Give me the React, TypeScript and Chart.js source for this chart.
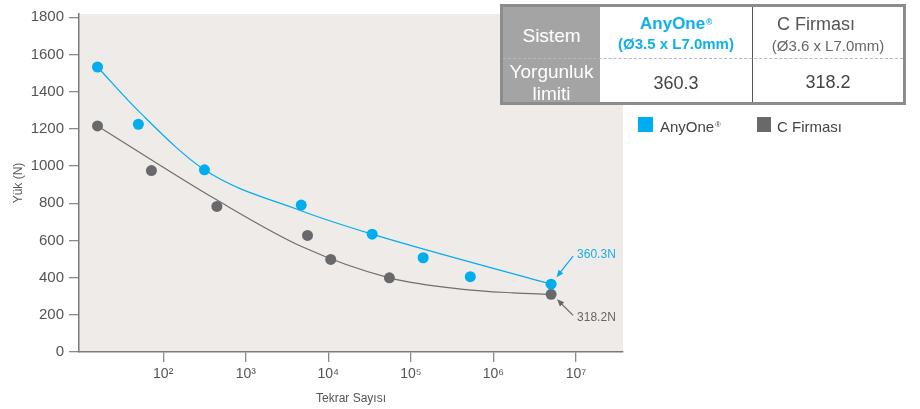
import React, { useEffect, useRef } from 'react';
import { Chart, registerables } from 'chart.js';

Chart.register(...registerables);

const FONT = '"Liberation Sans", Arial, Helvetica, sans-serif';

// ---- data ----
const seriesNames = ['AnyOne', 'C Firması'];
const seriesDims = ['(Ø3.5 x L7.0mm)', '(Ø3.6 x L7.0mm)'];
const fatigueLimits = [360.3, 318.2];

const anyOneCycles = [16, 50, 316, 4700, 34000, 141000, 525000, 5000000];
const anyOneLoad = [1533, 1225, 980, 790, 634, 507, 405, 365];

const cFirmasiCycles = [16, 72, 447, 5600, 10700, 55000, 5000000];
const cFirmasiLoad = [1216, 976, 783, 627, 498, 399, 310];

const anyOneFitCycles = [16, 50, 316, 4680, 33900, 5000000];
const anyOneFitLoad = [1533, 1297, 980, 760, 634, 365];

const cFirmasiFitCycles = [16, 449, 4980, 54800, 431500, 1740000, 5000000];
const cFirmasiFitLoad = [1216, 817, 563, 399, 337, 318, 310];

const yTicks = [0, 200, 400, 600, 800, 1000, 1200, 1400, 1600, 1800];
const xTicks = [1e2, 1e3, 1e4, 1e5, 1e6, 1e7];
const xTickLabels = ['10²', '10³', '10⁴', '10⁵', '10⁶', '10⁷'];

const BLUE = '#00aeef';
const GREY = '#69696b';

const toXY = (xs: number[], ys: number[]) => xs.map((v, i) => ({ x: v, y: ys[i] }));

const bgPlugin = {
  id: 'plotBg',
  beforeDraw(chart: any) {
    const { ctx, chartArea: a } = chart;
    ctx.save();
    ctx.fillStyle = '#efebe8';
    ctx.fillRect(a.left, a.top, a.right - a.left, a.bottom - a.top);
    ctx.restore();
  },
};

function arrow(ctx: CanvasRenderingContext2D, x1: number, y1: number, x2: number, y2: number, color: string) {
  const ang = Math.atan2(y2 - y1, x2 - x1);
  const hl = 7, hw = 3;
  ctx.strokeStyle = color;
  ctx.fillStyle = color;
  ctx.lineWidth = 1.2;
  ctx.beginPath();
  ctx.moveTo(x1, y1);
  ctx.lineTo(x2 - Math.cos(ang) * hl * 0.8, y2 - Math.sin(ang) * hl * 0.8);
  ctx.stroke();
  ctx.beginPath();
  ctx.moveTo(x2, y2);
  ctx.lineTo(x2 - Math.cos(ang) * hl + Math.sin(ang) * hw, y2 - Math.sin(ang) * hl - Math.cos(ang) * hw);
  ctx.lineTo(x2 - Math.cos(ang) * hl - Math.sin(ang) * hw, y2 - Math.sin(ang) * hl + Math.cos(ang) * hw);
  ctx.closePath();
  ctx.fill();
}

const annotPlugin = {
  id: 'annot',
  afterDatasetsDraw(chart: any) {
    const { ctx, scales } = chart;
    const xs = scales.x, ys = scales.y;
    ctx.save();
    ctx.font = `12px ${FONT}`;
    ctx.textBaseline = 'middle';
    ctx.textAlign = 'left';
    let px = xs.getPixelForValue(anyOneCycles[anyOneCycles.length - 1]);
    let py = ys.getPixelForValue(anyOneLoad[anyOneLoad.length - 1]);
    arrow(ctx, px + 22, py - 28, px + 5.5, py - 7, BLUE);
    ctx.fillStyle = '#1aaee8';
    ctx.fillText(`${fatigueLimits[0]}N`, px + 26, py - 29);
    px = xs.getPixelForValue(cFirmasiCycles[cFirmasiCycles.length - 1]);
    py = ys.getPixelForValue(cFirmasiLoad[cFirmasiLoad.length - 1]);
    arrow(ctx, px + 22, py + 21, px + 6, py + 5, '#666');
    ctx.fillStyle = '#666';
    ctx.fillText(`${fatigueLimits[1]}N`, px + 26, py + 23);
    ctx.restore();
  },
};

type TProps = { x: number; w: number; cy: number; size: number; color: string; weight?: number; pr?: number; children: React.ReactNode };
function T({ x, w, cy, size, color, weight = 400, pr = 0, children }: TProps) {
  const lh = Math.round(size * 1.3);
  return (
    <div
      style={{
        position: 'absolute', left: x, width: w, top: cy - lh / 2, height: lh, lineHeight: `${lh}px`,
        textAlign: 'center', fontSize: size, color, fontWeight: weight, whiteSpace: 'nowrap',
        paddingRight: pr, boxSizing: 'border-box',
      }}
    >
      {children}
    </div>
  );
}

const sup: React.CSSProperties = { fontSize: '0.5em', verticalAlign: 'top', position: 'relative', top: '-0.25em', marginLeft: 1 };

export default function App() {
  const ref = useRef<HTMLCanvasElement>(null);

  useEffect(() => {
    document.body.style.margin = '0';
    const canvas = ref.current!;
    const chart = new Chart(canvas, {
      type: 'scatter',
      data: {
        datasets: [
          {
            label: seriesNames[0], data: toXY(anyOneCycles, anyOneLoad), backgroundColor: BLUE, borderColor: BLUE,
            pointRadius: 5.5, pointBorderWidth: 0, order: 1,
          },
          {
            label: seriesNames[1], data: toXY(cFirmasiCycles, cFirmasiLoad), backgroundColor: GREY, borderColor: GREY,
            pointRadius: 5.5, pointBorderWidth: 0, order: 1,
          },
          {
            label: seriesNames[0] + ' fit', data: toXY(anyOneFitCycles, anyOneFitLoad), showLine: true, pointRadius: 0,
            borderColor: BLUE, borderWidth: 1.2, cubicInterpolationMode: 'monotone', order: 2,
          } as any,
          {
            label: seriesNames[1] + ' fit', data: toXY(cFirmasiFitCycles, cFirmasiFitLoad), showLine: true, pointRadius: 0,
            borderColor: '#6f6f6f', borderWidth: 1.2, cubicInterpolationMode: 'monotone', order: 2,
          } as any,
        ],
      },
      options: {
        animation: false,
        responsive: false,
        maintainAspectRatio: false,
        devicePixelRatio: 1,
        layout: { padding: { top: 13, right: 297, bottom: 0, left: 0 } },
        plugins: { legend: { display: false }, tooltip: { enabled: false } },
        scales: {
          x: {
            type: 'logarithmic',
            min: Math.pow(10, 0.98),
            max: Math.pow(10, 7.57),
            afterBuildTicks: (s: any) => { s.ticks = xTicks.map((v) => ({ value: v })); },
            afterFit: (s: any) => { s.height = 57; },
            grid: { display: true, drawOnChartArea: false, drawTicks: true, tickLength: 10, color: '#8a8a8a', lineWidth: 1.3 },
            border: { display: true, color: '#7a7a7a', width: 1.5 },
            ticks: {
              autoSkip: false, maxRotation: 0, padding: 4, color: '#555', font: { family: FONT, size: 14 },
              callback: (v: any) => { const i = xTicks.indexOf(Number(v)); return i >= 0 ? xTickLabels[i] : ''; },
            },
            title: { display: true, text: 'Tekrar Sayısı', color: '#555', font: { family: FONT, size: 12 }, padding: { top: 0, bottom: 3 } },
          },
          y: {
            type: 'linear',
            min: 0,
            max: 1818,
            afterBuildTicks: (s: any) => { s.ticks = yTicks.map((v) => ({ value: v })); },
            afterFit: (s: any) => { s.width = 79; },
            grid: { display: true, drawOnChartArea: false, drawTicks: true, tickLength: 10, color: '#8a8a8a', lineWidth: 1.3 },
            border: { display: true, color: '#7a7a7a', width: 1.5 },
            ticks: { padding: 5, color: '#555', font: { family: FONT, size: 15 }, callback: (v: any) => String(v) },
            title: { display: true, text: 'Yük (N)', color: '#555', font: { family: FONT, size: 12 }, padding: { top: 11, bottom: 0 } },
          },
        },
      } as any,
      plugins: [bgPlugin, annotPlugin],
    });
    return () => chart.destroy();
  }, []);

  return (
    <div style={{ position: 'relative', width: 920, height: 409, fontFamily: FONT, background: '#fff', overflow: 'hidden' }}>
      <canvas ref={ref} width={920} height={409} style={{ position: 'absolute', left: 0, top: 0, display: 'block' }} />
      <div
        style={{
          position: 'absolute', left: 500, top: 4, width: 406, height: 101, boxSizing: 'border-box',
          border: '3px solid #8c8c8c', background: '#fff',
        }}
      >
        <div style={{ position: 'absolute', left: 0, top: 0, width: 97, height: 95, background: '#a4a4a4' }} />
        <div style={{ position: 'absolute', left: 249, top: 0, width: 1, height: 95, background: '#555' }} />
        <div style={{ position: 'absolute', left: 0, right: 0, top: 51, height: 0, borderTop: '1px dashed #b8b8b8' }} />
        <T x={0} w={97} cy={28} size={19} color="#fff">Sistem</T>
        <T x={0} w={97} cy={64.5} size={19} color="#fff">Yorgunluk</T>
        <T x={0} w={97} cy={86} size={19} color="#fff">limiti</T>
        <T x={97} w={152} cy={17} size={17} color="#10b0ea" weight={700}>
          {seriesNames[0]}<span style={sup}>®</span>
        </T>
        <T x={97} w={152} cy={37} size={15} color="#10b0ea" weight={700}>{seriesDims[0]}</T>
        <T x={250} w={150} cy={17} size={18} color="#555" pr={24}>{seriesNames[1]}</T>
        <T x={250} w={150} cy={38.5} size={15} color="#666">{seriesDims[1]}</T>
        <T x={97} w={152} cy={76} size={18} color="#444">{String(fatigueLimits[0])}</T>
        <T x={250} w={150} cy={75} size={18} color="#444">{String(fatigueLimits[1])}</T>
      </div>
      <div style={{ position: 'absolute', left: 638, top: 117, width: 15, height: 15, background: BLUE }} />
      <div style={{ position: 'absolute', left: 660, top: 117, height: 20, lineHeight: '20px', fontSize: 15, color: '#444', whiteSpace: 'nowrap' }}>
        {seriesNames[0]}<span style={sup}>®</span>
      </div>
      <div style={{ position: 'absolute', left: 757, top: 117, width: 14, height: 15, background: GREY }} />
      <div style={{ position: 'absolute', left: 777, top: 117, height: 20, lineHeight: '20px', fontSize: 15, color: '#444', whiteSpace: 'nowrap' }}>
        {seriesNames[1]}
      </div>
    </div>
  );
}
